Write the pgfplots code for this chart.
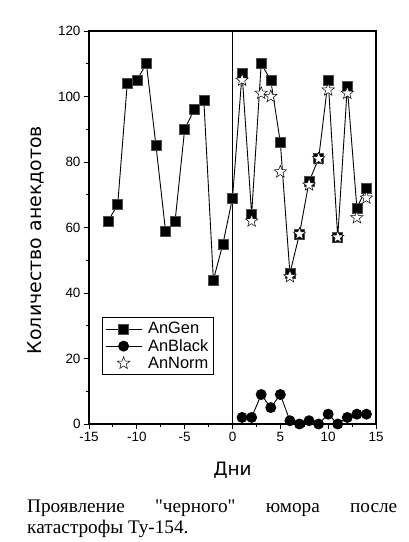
\documentclass[border=0pt]{standalone}
\usepackage{fontspec}
\setmainfont{Liberation Serif}[Ligatures=TeXOff]
\newfontfamily\sans{Liberation Sans}
\newfontfamily\dejavu{DejaVu Sans}
\usepackage{pgfplots}
\pgfplotsset{compat=1.18}

% outlined star, white inside
\pgfdeclareplotmark{ostar}{%
  \pgfpathmoveto{\pgfpointpolar{90}{\pgfplotmarksize}}%
  \pgfpathlineto{\pgfpointpolar{126}{0.42\pgfplotmarksize}}%
  \pgfpathlineto{\pgfpointpolar{162}{\pgfplotmarksize}}%
  \pgfpathlineto{\pgfpointpolar{198}{0.42\pgfplotmarksize}}%
  \pgfpathlineto{\pgfpointpolar{234}{\pgfplotmarksize}}%
  \pgfpathlineto{\pgfpointpolar{270}{0.42\pgfplotmarksize}}%
  \pgfpathlineto{\pgfpointpolar{306}{\pgfplotmarksize}}%
  \pgfpathlineto{\pgfpointpolar{342}{0.42\pgfplotmarksize}}%
  \pgfpathlineto{\pgfpointpolar{18}{\pgfplotmarksize}}%
  \pgfpathlineto{\pgfpointpolar{54}{0.42\pgfplotmarksize}}%
  \pgfpathclose
  \pgfusepathqfillstroke}

\begin{document}
\begin{tikzpicture}
\useasboundingbox (0bp,0bp) rectangle (409bp,542bp);
\begin{axis}[
    at={(89bp,118bp)}, anchor=south west,
    width=287bp, height=393bp, scale only axis,
    xmin=-15, xmax=15, ymin=0, ymax=120,
    xtick={-15,-10,...,15}, ytick={0,20,...,120},
    minor xtick={-12.5,-7.5,...,12.5}, minor ytick={10,30,...,110},
    tick align=outside, axis line style={line width=1.5pt},
    xtick pos=bottom, ytick pos=left,
    major tick length=5bp, minor tick length=3bp,
    every tick/.style={black, line width=0.9pt},
    /pgf/number format/assume math mode=true,
    tick label style={font=\sans\fontsize{13.5}{15}\selectfont},
    xlabel={Дни}, ylabel={Количество анекдотов},
    xlabel style={font=\dejavu\fontsize{18.5}{22}\selectfont,
        at={(axis description cs:0.5,-0.132)}, anchor=base},
    ylabel style={font=\dejavu\fontsize{19}{22}\selectfont,
        at={(axis description cs:-0.164,0.468)}, anchor=base},
    legend style={at={(0.045,0.125)}, anchor=south west, draw=black, line width=0.5pt,
        font=\sans\fontsize{16.5}{21}\selectfont, row sep=0pt, inner sep=3pt,
        /tikz/every odd column/.append style={column sep=4bp}},
    legend cell align=left,
    legend image code/.code={%
        \draw[mark repeat=2, mark phase=2] plot coordinates {(0bp,0bp) (18bp,0bp) (36bp,0bp)};},
]
\addplot[black, line width=0.9pt, mark=square*, mark size=5bp,
    mark options={fill=black, draw=black!70, line width=0.5pt}] coordinates {
    (-13,62) (-12,67) (-11,104) (-10,105) (-9,110) (-8,85) (-7,59) (-6,62)
    (-5,90) (-4,96) (-3,99) (-2,44) (-1,55) (0,69) (1,107) (2,64) (3,110)
    (4,105) (5,86) (6,46) (7,58) (8,74) (9,81) (10,105) (11,57) (12,103)
    (13,66) (14,72)
};
\addlegendentry{AnGen}
\addplot[black, line width=0.9pt, mark=*, mark size=5bp] coordinates {
    (1,2) (2,2) (3,9) (4,5) (5,9) (6,1) (7,0) (8,1) (9,0) (10,3) (11,0)
    (12,2) (13,3) (14,3)
};
\addlegendentry{AnBlack}
\addplot[only marks, mark=ostar, mark size=6.5bp,
    mark options={fill=white, draw=black, line width=0.5pt}] coordinates {
    (1,105) (2,62) (3,101) (4,100) (5,77) (6,45) (7,58) (8,73) (9,81)
    (10,102) (11,57) (12,101) (13,63) (14,69)
};
\addlegendentry{AnNorm}
\addplot[black, line width=1.8pt, forget plot] coordinates {(0,0) (0,120)};
\end{axis}
\node[anchor=base west, text width=370bp, align=justify, inner sep=0pt,
    font=\fontsize{19.3}{22}\selectfont] at (27bp,30bp)
    {Проявление "черного" юмора после\linebreak катастрофы Ту-154.};
\end{tikzpicture}
\end{document}
